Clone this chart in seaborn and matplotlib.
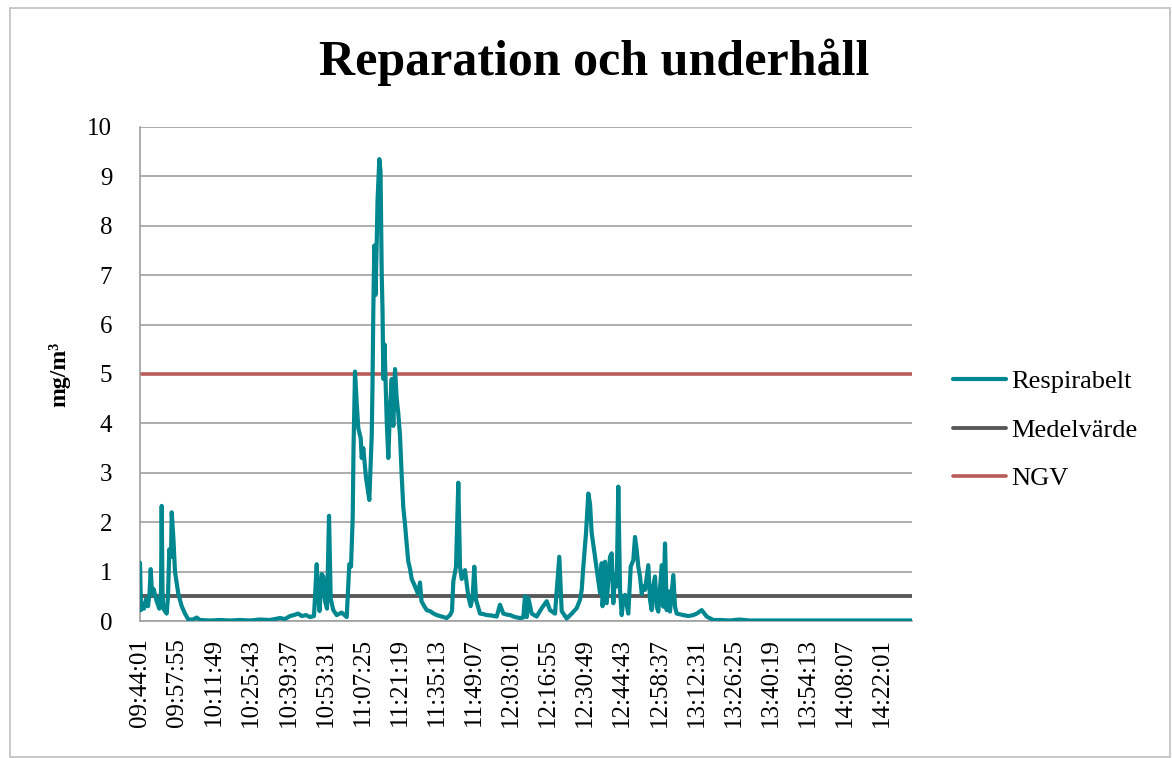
import matplotlib
matplotlib.use('Agg')

import pandas as pd
import matplotlib.pyplot as plt
import seaborn as sns
from matplotlib.patches import Rectangle

# === Data (minutes after 09:44:01, mg/m3) ===
t_min = [0.0, 0.37, 0.94, 1.50, 2.25, 3.00, 3.56, 4.01, 4.50, 5.06, 6.26, 7.23, 7.87, 8.13,
         8.43, 8.73, 10.00, 10.49, 10.98, 11.62, 11.88, 12.48, 13.11, 14.35, 15.62, 16.86,
         18.10, 19.86, 21.24, 22.48, 26.23, 29.97, 33.72, 37.47, 41.21, 44.96, 48.71, 52.45,
         54.33, 56.20, 57.70, 59.20, 60.70, 62.20, 63.69, 65.19, 66.21, 66.69, 67.26, 68.08,
         68.68, 69.32, 70.07, 70.82, 71.45, 72.43, 73.70, 75.58, 77.45, 78.42, 79.06, 79.70,
         80.00, 80.56, 81.20, 81.80, 82.70, 83.07, 83.67, 84.68, 85.92, 86.82, 87.12, 87.42,
         87.79, 88.24, 88.69, 88.99, 89.67, 90.12, 90.57, 90.87, 91.17, 91.62, 92.44, 93.04,
         93.67, 94.31, 94.91, 95.55, 96.18, 96.78, 97.42, 98.05, 98.65, 99.30, 99.93, 100.53,
         101.20, 101.80, 103.04, 104.16, 104.91, 105.47, 106.50, 107.42, 108.66, 110.00,
         111.17, 113.00, 114.91, 116.15, 116.90, 117.39, 118.40, 119.26, 119.90, 120.53,
         121.77, 123.00, 123.90, 124.65, 125.25, 125.89, 127.39, 128.60, 129.90, 131.80,
         133.65, 134.88, 136.12, 137.40, 138.63, 140.50, 142.38, 143.60, 144.25, 144.89,
         145.49, 146.76, 148.63, 150.51, 152.38, 153.62, 155.49, 157.10, 158.00, 159.88,
         161.75, 163.62, 164.86, 165.50, 166.10, 167.11, 167.97, 168.61, 169.24, 170.48,
         171.72, 172.35, 172.99, 173.30, 173.59, 174.23, 174.86, 175.46, 176.10, 176.74,
         177.34, 178.00, 178.61, 179.21, 179.85, 180.48, 181.10, 181.72, 182.96, 183.86,
         184.83, 185.47, 186.11, 186.71, 187.34, 188.00, 188.58, 189.21, 190.45, 191.09,
         191.72, 192.30, 192.96, 193.60, 194.20, 195.47, 196.07, 196.71, 197.34, 198.00,
         198.58, 199.82, 200.46, 201.09, 203.57, 205.50, 207.32, 208.59, 210.46, 212.33,
         214.80, 217.31, 221.06, 224.50, 228.55, 239.79, 251.03, 266.02, 277.26, 289.25]
respirabelt = [1.18, 0.22, 0.35, 0.25, 0.45, 0.30, 0.55, 1.05, 0.55, 0.65, 0.40, 0.25, 0.60, 2.33,
               0.60, 0.25, 0.15, 0.50, 1.45, 1.30, 2.20, 1.70, 1.00, 0.55, 0.30, 0.15,
               0.03, 0.03, 0.07, 0.02, 0.01, 0.02, 0.01, 0.02, 0.01, 0.03, 0.02, 0.06,
               0.04, 0.10, 0.12, 0.15, 0.10, 0.12, 0.08, 0.10, 1.15, 0.50, 0.20, 0.95,
               0.90, 0.40, 0.25, 2.13, 0.45, 0.22, 0.12, 0.17, 0.08, 1.15, 1.10, 2.10,
               3.50, 5.05, 4.40, 3.90, 3.70, 3.30, 3.50, 2.90, 2.45, 3.75, 4.80, 6.30,
               7.60, 6.60, 7.65, 8.50, 9.35, 9.10, 7.00, 6.30, 4.90, 5.60, 4.05, 3.30,
               4.30, 4.90, 3.95, 5.10, 4.50, 4.20, 3.75, 2.95, 2.30, 1.95, 1.55, 1.20,
               1.05, 0.85, 0.70, 0.55, 0.78, 0.40, 0.30, 0.22, 0.20, 0.15,
               0.12, 0.09, 0.06, 0.12, 0.20, 0.80, 1.10, 2.80, 1.10, 0.85,
               1.03, 0.50, 0.30, 0.50, 1.10, 0.43, 0.15, 0.14, 0.12, 0.11,
               0.09, 0.33, 0.15, 0.13, 0.12, 0.08, 0.06, 0.07, 0.50, 0.08,
               0.47, 0.15, 0.09, 0.26, 0.40, 0.22, 0.15, 1.30, 0.20, 0.05,
               0.15, 0.26, 0.43, 0.63, 1.10, 1.78, 2.58, 2.38, 1.78, 1.30,
               0.83, 0.57, 1.17, 0.30, 0.50, 1.20, 0.36, 0.83, 1.30, 1.37,
               0.36, 0.95, 0.70, 2.72, 0.63, 0.12, 0.45, 0.53, 0.15, 1.10,
               1.23, 1.70, 1.43, 1.10, 0.90, 0.55, 0.70, 0.63, 1.13, 0.43,
               0.22, 0.70, 0.90, 0.29, 0.19, 1.13, 0.29, 1.57, 0.22, 0.60,
               0.19, 0.93, 0.29, 0.15, 0.12, 0.10, 0.12, 0.15, 0.22, 0.09,
               0.02, 0.02, 0.01, 0.03, 0.01, 0.01, 0.01, 0.01, 0.01, 0.01]
medelvarde = 0.5
ngv = 5.0

tick_step = 13.9  # minutes between category labels
tick_labels = ["09:44:01", "09:57:55", "10:11:49", "10:25:43", "10:39:37", "10:53:31",
               "11:07:25", "11:21:19", "11:35:13", "11:49:07", "12:03:01", "12:16:55",
               "12:30:49", "12:44:43", "12:58:37", "13:12:31", "13:26:25", "13:40:19",
               "13:54:13", "14:08:07", "14:22:01"]

n = len(t_min)
df = pd.DataFrame({
    "t": t_min * 3,
    "value": respirabelt + [medelvarde] * n + [ngv] * n,
    "serie": ["Respirabelt"] * n + ["Medelvärde"] * n + ["NGV"] * n,
})

sns.set_theme(style="white")
plt.rcParams['font.family'] = ['Liberation Serif', 'DejaVu Serif']
plt.rcParams['text.color'] = 'black'
plt.rcParams['axes.labelcolor'] = 'black'
plt.rcParams['xtick.color'] = 'black'
plt.rcParams['ytick.color'] = 'black'

fig = plt.figure(figsize=(11.72, 7.58), dpi=100)
ax = fig.add_axes([140 / 1172, 1 - 621 / 758, 772 / 1172, 494 / 758])

palette = {"Respirabelt": "#00878F", "Medelvärde": "#595959", "NGV": "#B85C57"}
sizes = {"Respirabelt": 3.0, "Medelvärde": 2.8, "NGV": 2.6}
for name in ["NGV", "Medelvärde", "Respirabelt"]:
    sub = df[df["serie"] == name]
    sns.lineplot(data=sub, x="t", y="value", color=palette[name], linewidth=sizes[name],
                 estimator=None, ax=ax, label=name, zorder=3 if name == "Respirabelt" else 2)

ax.set_xlim(0, t_min[-1])
ax.set_ylim(0, 10)
ax.set_yticks(range(0, 11))
ax.set_xticks([i * tick_step for i in range(len(tick_labels))])
ax.set_xticklabels(tick_labels, rotation=90, fontsize=18)
ax.tick_params(axis='y', labelsize=18, length=0, pad=20)
ax.tick_params(axis='x', length=0, pad=12)
ax.grid(axis='y', color='#A0A0A0', linewidth=1.2)
ax.set_axisbelow(True)
for s in ["top", "right"]:
    ax.spines[s].set_visible(False)
for s in ["left", "bottom"]:
    ax.spines[s].set_color('#A0A0A0')
    ax.spines[s].set_linewidth(1.2)
ax.set_xlabel("")
ax.set_ylabel("mg/m³", fontsize=17, fontweight='bold', labelpad=12)

handles, labels = ax.get_legend_handles_labels()
order = [labels.index(k) for k in ["Respirabelt", "Medelvärde", "NGV"]]
ax.legend([handles[i] for i in order], [labels[i] for i in order],
          loc='center left', bbox_to_anchor=(929 / 1172, 1 - 430 / 758),
          bbox_transform=fig.transFigure, frameon=False, fontsize=19,
          handlelength=2.0, handletextpad=0.2, labelspacing=0.95)

fig.text(0.507, 1 - 62 / 758, "Reparation och underhåll", ha='center', va='center',
         fontsize=36, fontweight='bold')

fig.add_artist(Rectangle((10 / 1172, 1 / 758), 1160 / 1172, 749 / 758, transform=fig.transFigure,
                         fill=False, edgecolor='#BFBFBF', linewidth=1.2))

fig.savefig("out.png", dpi=100)
plt.close(fig)
